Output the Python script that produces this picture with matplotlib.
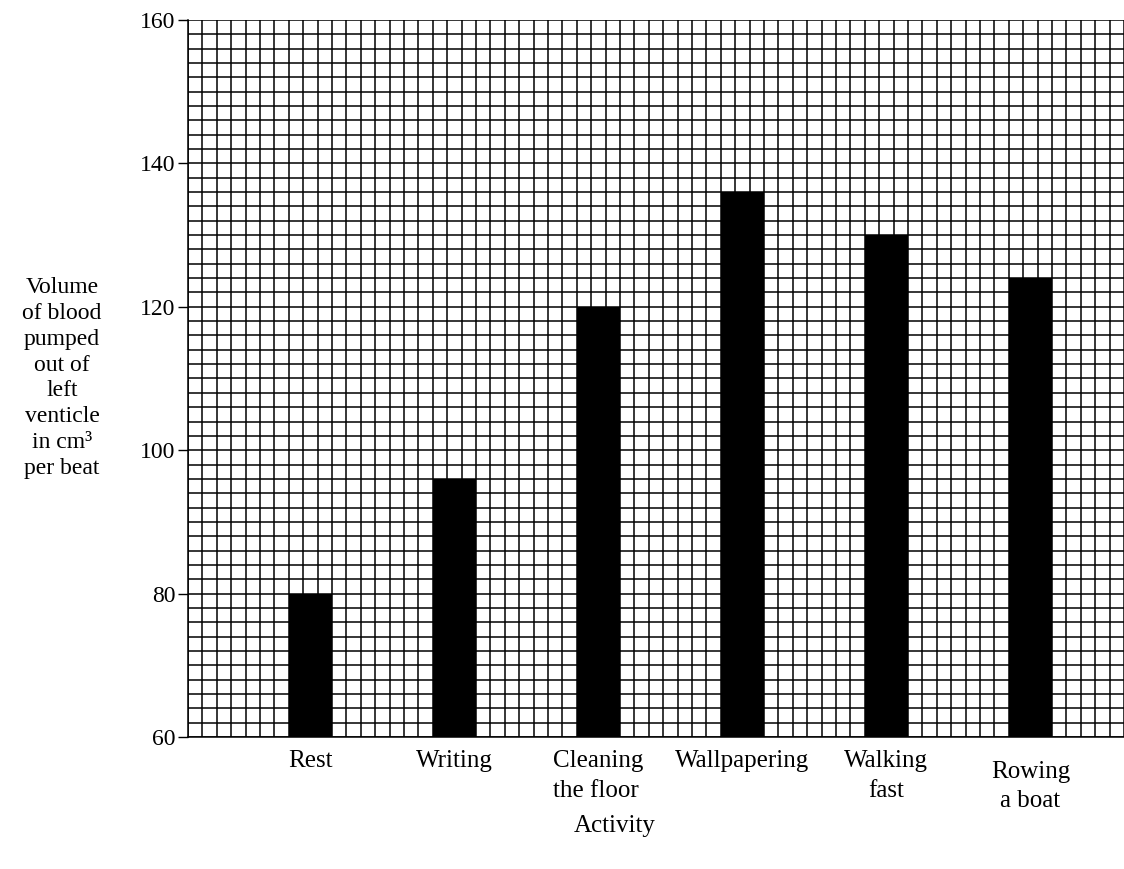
import numpy as np
import matplotlib
matplotlib.use("Agg")
import matplotlib.pyplot as plt

activities = ['Rest', 'Writing', 'Cleaning\nthe floor', 'Wallpapering', 'Walking\nfast', 'Rowing\na boat']
volumes = [80, 96, 120, 136, 130, 124]
y_ticks = [60, 80, 100, 120, 140, 160]

plt.rcParams['font.family'] = ['Liberation Serif', 'DejaVu Serif']

fig = plt.figure(figsize=(11.24, 8.69), dpi=100)
ax = fig.add_axes([188/1124, 1 - 737/869, 1 - 188/1124, (737 - 20)/869])

centers = 8.5 + 10 * np.arange(len(activities))
ax.bar(centers, np.array(volumes) - 60, bottom=60, width=3, color='black', zorder=3)

ax.set_xlim(0, 65)
ax.set_ylim(60, 160)

# grid: 1 unit across, 2 units up
ax.set_xticks(np.arange(0, 66, 1), minor=True)
ax.set_xticks([])
ax.set_yticks(y_ticks)
ax.set_yticks(np.arange(60, 161, 2), minor=True)
ax.grid(which='minor', color='black', linewidth=1.1, zorder=1)
ax.grid(which='major', axis='y', color='black', linewidth=1.1, zorder=1)
ax.set_axisbelow(True)

ax.tick_params(axis='y', which='major', length=7, width=1, labelsize=17, colors='black', pad=2)
ax.tick_params(axis='y', which='minor', length=0)
ax.tick_params(axis='x', which='minor', length=0)
for s in ['top', 'right']:
    ax.spines[s].set_visible(False)
ax.spines['left'].set_linewidth(1.1)
ax.spines['bottom'].set_linewidth(1.1)

# category labels under the bars
offsets = [0, 0, 0, 0, 0, -0.015]
aligns = ['center', 'center', 'left', 'center', 'center', 'center']
for x, name, dy, al in zip(centers, activities, offsets, aligns):
    ax.text(x, -0.018 + dy, name, transform=ax.get_xaxis_transform(),
            ha='center', va='top', fontsize=18, linespacing=1.45,
            multialignment=al)

ax.text(615/1124, 1 - 826/869, 'Activity', transform=fig.transFigure,
        ha='center', va='center', fontsize=18)

fig.text(62/1124, 1 - 378/869,
         'Volume\nof blood\npumped\nout of\nleft\nventicle\nin cm³\nper beat',
         ha='center', va='center', fontsize=17, linespacing=1.3)

fig.savefig('out.png', dpi=100)
